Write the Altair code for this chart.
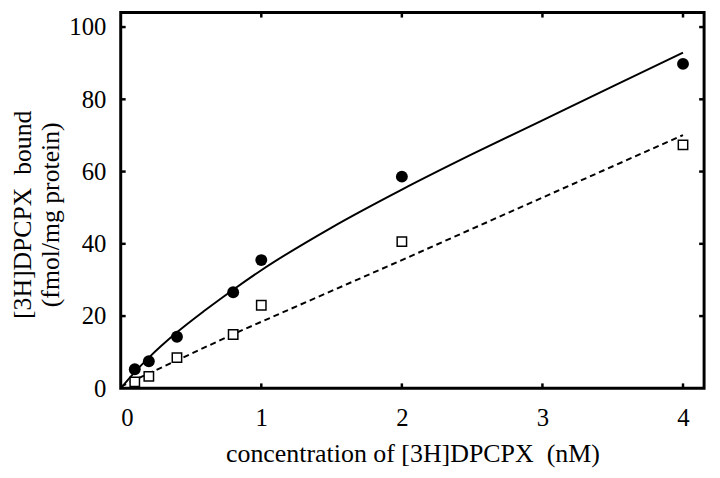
import altair as alt
import pandas as pd

# ---- data ----
conc = [0.1, 0.2, 0.4, 0.8, 1.0, 2.0, 4.0]
total_bound = [5.3, 7.5, 14.3, 26.6, 35.5, 58.6, 89.8]
nonspec_bound = [1.8, 3.3, 8.5, 14.9, 23.0, 40.6, 67.4]

fit_x = [0, 0.1, 0.2, 0.4, 0.6, 0.8, 1.0, 1.5, 2.0, 2.5, 3.0, 3.5, 4.0]
fit_total = [0, 4.5, 8.5, 15.5, 21.6, 27.3, 32.7, 44.5, 55.0, 64.8, 74.2, 83.6, 92.9]

line_x = [0, 0.8, 2.0, 4.0]
line_nonspec = [0.5, 15.0, 35.5, 70.1]

x_ticks = [0, 1, 2, 3, 4]
y_ticks = [0, 20, 40, 60, 80, 100]

x_title = "concentration of [3H]DPCPX \u00a0(nM)"
y_title = ["[3H]DPCPX \u00a0bound", "(fmol/mg protein)"]

FONT = "Liberation Serif"
W, H = 590, 380

pts = pd.DataFrame({"c": conc, "total": total_bound, "ns": nonspec_bound})
fit = pd.DataFrame({"c": fit_x, "y": fit_total})
lin = pd.DataFrame({"c": line_x, "y": line_nonspec})
xt = pd.DataFrame({"v": [t for t in x_ticks if t > 0]})
yt = pd.DataFrame({"v": [t for t in y_ticks if t > 0]})

xs = alt.Scale(domain=[0, 4.15], nice=False, zero=False)
ys = alt.Scale(domain=[0, 104], nice=False, zero=False)

x_axis = alt.Axis(
    values=x_ticks, format="d", grid=False, domain=False, ticks=False, tickSize=0,
    labelFont=FONT, labelFontSize=25, labelColor="black", labelPadding=38,
    labelBaseline="alphabetic",
    title=x_title, titleFont=FONT, titleFontSize=26.2, titleFontWeight="normal",
    titleColor="black", titleBaseline="alphabetic", titleY=74,
)
y_axis = alt.Axis(
    values=y_ticks, format="d", grid=False, domain=False, ticks=False, tickSize=0,
    labelFont=FONT, labelFontSize=25, labelColor="black", labelPadding=15,
    title=y_title, titleFont=FONT, titleFontSize=26, titleFontWeight="normal",
    titleColor="black", titleBaseline="alphabetic", titleAngle=270,
    titleAlign="center", titleX=-91, titleY=204, titleLineHeight=28,
)


def X(field):
    return alt.X(field, type="quantitative", scale=xs, axis=x_axis)


def Y(field):
    return alt.Y(field, type="quantitative", scale=ys, axis=y_axis)


fit_line = alt.Chart(fit).mark_line(color="black", strokeWidth=2, interpolate="monotone").encode(
    x=X("c"), y=Y("y"))
ns_line = alt.Chart(lin).mark_line(color="black", strokeWidth=2, strokeDash=[6, 4]).encode(
    x=X("c"), y=Y("y"))
circles = alt.Chart(pts).mark_point(shape="circle", filled=True, size=145, color="black", opacity=1).encode(
    x=X("c"), y=Y("total"))
squares = alt.Chart(pts).mark_square(size=90, fill="white", stroke="black", strokeWidth=1.5, opacity=1).encode(
    x=X("c"), y=Y("ns"))

TL = 5
tick_style = dict(color="black", strokeWidth=2.5)
bottom_ticks = alt.Chart(xt).mark_rule(**tick_style).encode(
    x=X("v"), y=alt.value(H), y2=alt.value(H - TL))
top_ticks = alt.Chart(xt).mark_rule(**tick_style).encode(
    x=X("v"), y=alt.value(0), y2=alt.value(TL))
left_ticks = alt.Chart(yt).mark_rule(**tick_style).encode(
    y=Y("v"), x=alt.value(0), x2=alt.value(TL))
right_ticks = alt.Chart(yt).mark_rule(**tick_style).encode(
    y=Y("v"), x=alt.value(W), x2=alt.value(W - TL))

chart = alt.layer(
    fit_line, ns_line, bottom_ticks, top_ticks, left_ticks, right_ticks, squares, circles
).properties(
    width=W, height=H,
    padding={"left": 114, "top": 2, "right": 8, "bottom": 86},
    autosize=alt.AutoSizeParams(type="none"),
    background="white",
).configure_view(stroke="black", strokeWidth=3)

chart.save("out.html", embed_options={"renderer": "svg", "actions": False})
